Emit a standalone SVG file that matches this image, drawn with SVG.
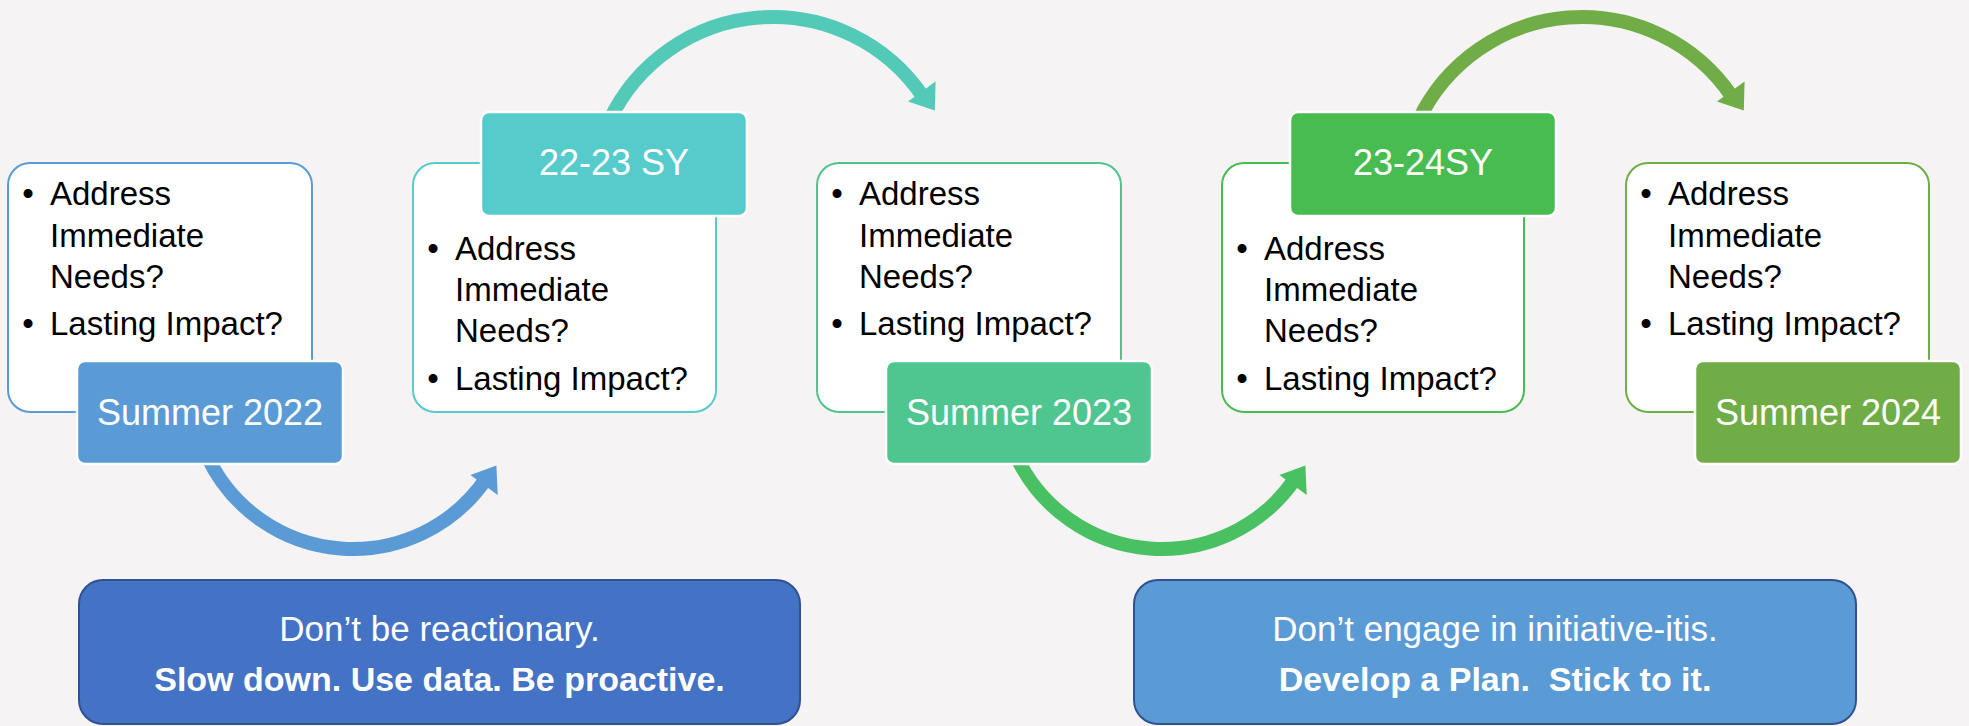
<svg xmlns="http://www.w3.org/2000/svg" width="1969" height="726" viewBox="0 0 1969 726">
<style>
.bg{fill:#F5F3F4}
.card{fill:#FFFFFF;stroke-width:2}
.tag{stroke:#FFFFFF;stroke-width:2.5}
.tagtxt{font-family:"Liberation Sans",Arial,sans-serif;font-size:36px;fill:#FFFFFF;text-anchor:middle}
.bul{font-family:"Liberation Sans",Arial,sans-serif;font-size:33px;fill:#000000}
.dot{text-anchor:middle}
.arc{fill:none;stroke-width:14}
.note{stroke:#2F528F;stroke-width:2}
.notetxt{font-family:"Liberation Sans",Arial,sans-serif;font-size:35px;fill:#FFFFFF;text-anchor:middle}
.b{font-weight:bold;font-size:34px}
.c-blue{stroke:#5B9BD5}
.c-teal{stroke:#53CAB7}
.c-green{stroke:#49C061}
.c-olive{stroke:#70AD47}
.h-blue{fill:#5B9BD5}
.h-teal{fill:#53CAB7}
.h-green{fill:#49C061}
.h-olive{fill:#70AD47}
</style>
<rect class="bg" x="0" y="0" width="1969" height="726"/>

<g id="connectors">
  <path class="arc c-blue" d="M207.1,456 A161,161 0 0 0 486.5,478"/>
  <polygon class="h-blue" points="470.4,474.9 496.4,465.5 497.7,495.1"/>
  <path class="arc c-teal" d="M609,121.5 A181,181 0 0 1 923.1,96.8"/>
  <polygon class="h-teal" points="908,101.4 934.8,110.5 935.6,81.6"/>
  <path class="arc c-green" d="M1016.1,456 A161,161 0 0 0 1295.5,478"/>
  <polygon class="h-green" points="1279.4,474.9 1305.4,465.5 1306.7,495.1"/>
  <path class="arc c-olive" d="M1418,121.5 A181,181 0 0 1 1732.1,96.8"/>
  <polygon class="h-olive" points="1717,101.4 1743.8,110.5 1744.6,81.6"/>
</g>

<g id="node-summer-2022">
  <rect class="card" x="8" y="163" width="304" height="249" rx="22" stroke="#5B9BD5"/>
  <text class="bul dot"><tspan x="28" y="205">•</tspan><tspan x="28" y="335">•</tspan></text>
  <text class="bul"><tspan x="50" y="205">Address</tspan><tspan x="50" y="247">Immediate</tspan><tspan x="50" y="288">Needs?</tspan><tspan x="50" y="335">Lasting Impact?</tspan></text>
  <rect class="tag" x="77" y="361" width="266" height="103" rx="8" fill="#5B9BD5"/>
  <text class="tagtxt" x="210" y="425">Summer 2022</text>
</g>

<g id="node-22-23-sy">
  <rect class="card" x="413" y="163" width="303" height="249" rx="22" stroke="#56CBCC"/>
  <text class="bul dot"><tspan x="433" y="260">•</tspan><tspan x="433" y="390">•</tspan></text>
  <text class="bul"><tspan x="455" y="260">Address</tspan><tspan x="455" y="301">Immediate</tspan><tspan x="455" y="342">Needs?</tspan><tspan x="455" y="390">Lasting Impact?</tspan></text>
  <rect class="tag" x="481" y="112" width="266" height="104" rx="8" fill="#56CBCC"/>
  <text class="tagtxt" x="614" y="175">22-23 SY</text>
</g>

<g id="node-summer-2023">
  <rect class="card" x="817" y="163" width="304" height="249" rx="22" stroke="#50C48E"/>
  <text class="bul dot"><tspan x="837" y="205">•</tspan><tspan x="837" y="335">•</tspan></text>
  <text class="bul"><tspan x="859" y="205">Address</tspan><tspan x="859" y="247">Immediate</tspan><tspan x="859" y="288">Needs?</tspan><tspan x="859" y="335">Lasting Impact?</tspan></text>
  <rect class="tag" x="886" y="361" width="266" height="103" rx="8" fill="#4FC58F"/>
  <text class="tagtxt" x="1019" y="425">Summer 2023</text>
</g>

<g id="node-23-24-sy">
  <rect class="card" x="1222" y="163" width="302" height="249" rx="22" stroke="#49BC51"/>
  <text class="bul dot"><tspan x="1242" y="260">•</tspan><tspan x="1242" y="390">•</tspan></text>
  <text class="bul"><tspan x="1264" y="260">Address</tspan><tspan x="1264" y="301">Immediate</tspan><tspan x="1264" y="342">Needs?</tspan><tspan x="1264" y="390">Lasting Impact?</tspan></text>
  <rect class="tag" x="1290" y="112" width="266" height="104" rx="8" fill="#49BC51"/>
  <text class="tagtxt" x="1423" y="175">23-24SY</text>
</g>

<g id="node-summer-2024">
  <rect class="card" x="1626" y="163" width="303" height="249" rx="22" stroke="#70AD47"/>
  <text class="bul dot"><tspan x="1646" y="205">•</tspan><tspan x="1646" y="335">•</tspan></text>
  <text class="bul"><tspan x="1668" y="205">Address</tspan><tspan x="1668" y="247">Immediate</tspan><tspan x="1668" y="288">Needs?</tspan><tspan x="1668" y="335">Lasting Impact?</tspan></text>
  <rect class="tag" x="1695" y="361" width="266" height="103" rx="8" fill="#70AD47"/>
  <text class="tagtxt" x="1828" y="425">Summer 2024</text>
</g>

<g id="note-left">
  <rect class="note" x="79" y="580" width="721" height="144" rx="24" fill="#4472C4"/>
  <text class="notetxt" x="439.5" y="641">Don’t be reactionary.</text>
  <text class="notetxt b" x="439.5" y="691">Slow down. Use data. Be proactive.</text>
</g>

<g id="note-right">
  <rect class="note" x="1134" y="580" width="722" height="144" rx="24" fill="#5B9BD5"/>
  <text class="notetxt" x="1495" y="641">Don’t engage in initiative-itis.</text>
  <text class="notetxt b" x="1495" y="691" xml:space="preserve">Develop a Plan.  Stick to it.</text>
</g>
</svg>
